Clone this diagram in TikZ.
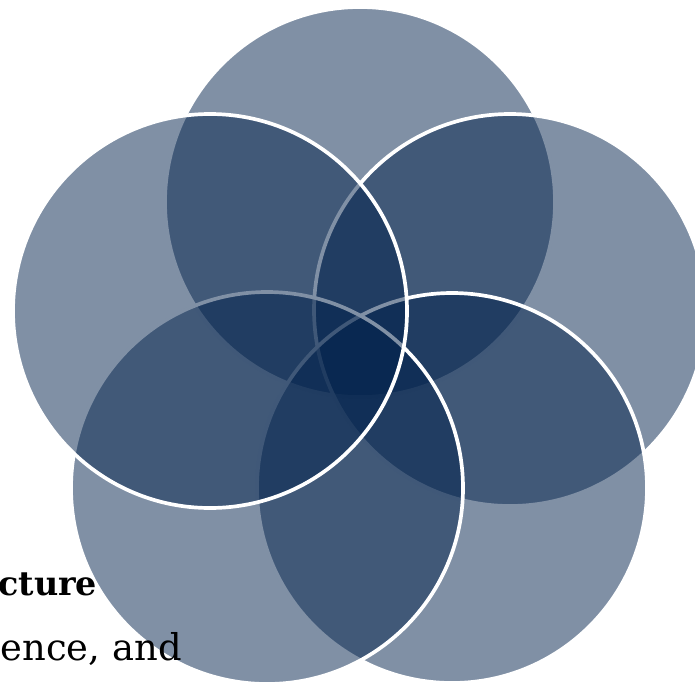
\documentclass[tikz,border=0pt]{standalone}
\usepackage{fontspec}
\setmainfont{DejaVu Serif}
\definecolor{navy}{RGB}{2,34,76}
\tikzset{
  petal/.style={fill=navy,fill opacity=0.5,draw=white,line width=2.1pt},
  words/.style={inner sep=0pt,font=\fontsize{21}{24}\selectfont}
}
\begin{document}
\begin{tikzpicture}[x=0.02cm,y=-0.02cm]
\useasboundingbox (0,0) rectangle (695,686);
\coordinate (top) at (360,202);
\coordinate (right) at (510,310);
\coordinate (lowright) at (452,488);
\coordinate (lowleft) at (267,488);
\coordinate (left) at (210,311);
\draw[petal] (top) circle (195);
\draw[petal] (right) circle (196);
\draw[petal] (lowright) circle (195);
\draw[petal] (lowleft) circle (196);
\draw[petal] (left) circle (197);
% the text lies over the circles
\node[words,anchor=base west,font=\fontsize{19}{22}\selectfont] (head) at (-2,595) {\textbf{cture}};
\node[words,anchor=base east] (body) at (182,660) {ence, and};
\end{tikzpicture}
\end{document}
